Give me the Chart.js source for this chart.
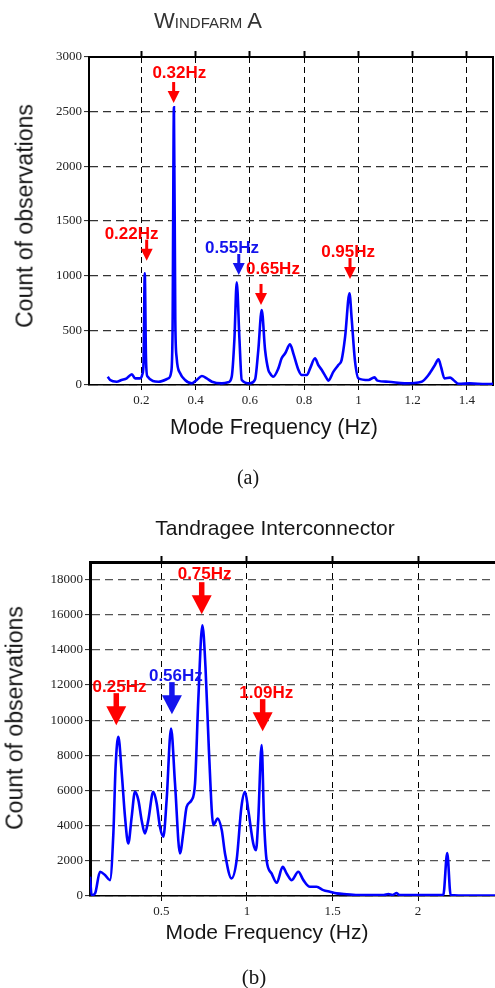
<!DOCTYPE html>
<html><head><meta charset="utf-8">
<script src="https://cdn.jsdelivr.net/npm/chart.js@4.4.1/dist/chart.umd.min.js"></script>
<style>
html,body{margin:0;padding:0;background:#fff;}
body{width:495px;height:988px;overflow:hidden;position:relative;font-family:"Liberation Sans",Arial,sans-serif;}
.box{position:absolute;}
.t{position:absolute;white-space:nowrap;transform:translate(-50%,-50%);color:#151515;line-height:1;}
.rot{transform:translate(-50%,-50%) rotate(-90deg);}
.serif{font-family:"Liberation Serif","Times New Roman",serif;}
</style></head><body>
<div class="box" style="left:0;top:0;width:495px;height:450px"><canvas id="cA"></canvas></div>
<div class="box" style="left:0;top:500px;width:505px;height:440px"><canvas id="cB"></canvas></div>
<div class="t" style="left:208px;top:21px;font-size:22px;font-variant:small-caps;color:#333">Windfarm A</div>
<div class="t rot" style="left:25px;top:216px;font-size:23px">Count of observations</div>
<div class="t" style="left:274px;top:428px;font-size:21.5px">Mode Frequency (Hz)</div>
<div class="t serif" style="left:248px;top:477px;font-size:20px">(a)</div>
<div class="t" style="left:275px;top:527px;font-size:21px">Tandragee Interconnector</div>
<div class="t rot" style="left:15px;top:718px;font-size:23px">Count of observations</div>
<div class="t" style="left:267px;top:931px;font-size:21px">Mode Frequency (Hz)</div>
<div class="t serif" style="left:254px;top:977px;font-size:21px">(b)</div>
<script>
// ---- Windfarm A data ----
const freqA = [0.076,0.085,0.109,0.127,0.146,0.165,0.177,0.196,0.204,0.208,0.2125,0.217,0.222,0.263,0.300,0.310,0.315,0.320,0.325,0.330,0.343,0.361,0.386,0.404,0.423,0.441,0.460,0.497,0.520,0.533,0.543,0.5515,0.5614,0.570,0.600,0.619,0.631,0.6436,0.656,0.668,0.674,0.686,0.705,0.717,0.730,0.748,0.760,0.779,0.791,0.810,0.822,0.840,0.852,0.865,0.883,0.889,0.908,0.926,0.938,0.951,0.967,0.975,0.987,1.000,1.037,1.059,1.070,1.110,1.170,1.233,1.258,1.282,1.295,1.305,1.317,1.338,1.350,1.370,1.410,1.470,1.496];
const countA = [76,46,30,46,61,98,61,61,100,200,1021,250,80,30,61,120,500,2540,600,250,107,46,15,46,82,61,30,15,25,76,423,940,423,46,15,50,320,685,320,137,107,76,152,244,290,372,290,137,91,91,152,244,183,137,61,40,122,183,228,442,838,610,228,61,46,70,40,30,15,30,91,183,235,160,61,67,46,10,15,8,10];
const xTicksA = [0.2,0.4,0.6,0.8,1,1.2,1.4];
const yTicksA = [0,500,1000,1500,2000,2500,3000];
const annLabelA = ['0.32Hz','0.22Hz','0.55Hz','0.65Hz','0.95Hz'];
const annTipFreqA = [0.319,0.2196,0.559,0.641,0.969];
const annTipCountA = [2579,1137,1006,732,969];
const annTextFreqA = [0.340,0.164,0.534,0.685,0.962];
const annTextCountA = [2854,1381,1250,1058,1210];
const annColorA = ['red','red','blue','red','red'];

// ---- Tandragee Interconnector data ----
const freqB = [0.0835,0.093,0.113,0.142,0.171,0.200,0.220,0.233,0.249,0.269,0.288,0.307,0.327,0.346,0.366,0.385,0.404,0.424,0.453,0.473,0.492,0.512,0.531,0.557,0.580,0.609,0.628,0.648,0.677,0.697,0.716,0.740,0.758,0.778,0.804,0.829,0.853,0.872,0.910,0.940,0.968,0.989,1.008,1.037,1.053,1.066,1.086,1.100,1.115,1.144,1.174,1.209,1.232,1.262,1.300,1.330,1.368,1.407,1.446,1.485,1.524,1.583,1.660,1.800,1.826,1.850,1.875,1.890,2.147,2.170,2.190,2.300,2.490];
const countB = [1100,50,150,1377,1190,904,3560,7350,9054,6972,4504,2991,4504,5926,5454,4316,3560,4316,5926,5266,3935,3367,5454,9531,6404,2423,3560,5073,5454,6404,11141,15406,13035,8298,4032,4411,3748,2423,1000,2040,5073,5926,4885,2991,2610,4300,8582,4300,2040,1285,750,1660,1285,904,1377,904,524,524,336,240,150,100,50,50,110,60,170,50,50,2440,50,20,20];
const xTicksB = [0.5,1,1.5,2];
const yTicksB = [0,2000,4000,6000,8000,10000,12000,14000,16000,18000];
const annLabelB = ['0.75Hz','0.25Hz','0.56Hz','1.09Hz'];
const annTipFreqB = [0.736,0.237,0.562,1.092];
const annTipCountB = [16032,9719,10345,9378];
const annTextFreqB = [0.753,0.256,0.585,1.113];
const annTextCountB = [18290,11897,12506,11556];
const annColorB = ['red','red','blue','red'];

const COLORS = {red:'#ff0000', blue:'#1414ee'};
const SERIF = '"Liberation Serif","Times New Roman",serif';

const arrowPlugin = {
  id: 'arrows',
  afterDatasetsDraw(chart, args, o) {
    const {ctx, scales: {x, y}} = chart;
    o.labels.forEach((lab, i) => {
      const px = x.getPixelForValue(o.tipF[i]);
      const py = y.getPixelForValue(o.tipC[i]);
      ctx.save();
      ctx.fillStyle = COLORS[o.colors[i]];
      ctx.font = o.font;
      ctx.textAlign = 'center';
      ctx.textBaseline = 'middle';
      ctx.fillText(lab, x.getPixelForValue(o.textF[i]), y.getPixelForValue(o.textC[i]));
      ctx.fillRect(px - o.shaft / 2, py - o.len, o.shaft, o.len - o.headH + 1);
      ctx.beginPath();
      ctx.moveTo(px - o.headW / 2, py - o.headH);
      ctx.lineTo(px + o.headW / 2, py - o.headH);
      ctx.lineTo(px, py);
      ctx.closePath();
      ctx.fill();
      ctx.restore();
    });
  }
};

const fmt = v => String(v);
function setTicks(list) { return s => { s.ticks = list.map(v => ({value: v})); }; }

function makeChart(id, freq, count, cfg, ann) {
  const pts = freq.map((f, i) => ({x: f, y: count[i]}));
  const scales = {
    x: {
      type: 'linear', position: 'bottom', min: cfg.xmin, max: cfg.xmax,
      afterBuildTicks: setTicks(cfg.xticks),
      ticks: {callback: fmt, font: {family: SERIF, size: 13}, color: '#222', padding: 3, maxRotation: 0, autoSkip: false},
      grid: {color: '#000', lineWidth: 1, tickLength: 5, tickColor: '#000', tickWidth: 1},
      border: {dash: cfg.xdash, color: '#000', width: 1.5},
      afterFit(s) { s.height = cfg.xh; }
    },
    x2: {
      type: 'linear', position: 'top', min: cfg.xmin, max: cfg.xmax,
      afterBuildTicks: setTicks(cfg.xticks),
      ticks: {display: false},
      grid: {drawOnChartArea: false, drawTicks: true, tickLength: 6, tickColor: '#000', tickWidth: 2},
      border: {color: '#000', width: cfg.frame},
      afterFit(s) { s.height = cfg.x2h; }
    },
    y: {
      min: 0, max: cfg.ymax,
      afterBuildTicks: setTicks(cfg.yticks),
      ticks: {callback: fmt, font: {family: SERIF, size: 13}, color: '#222', padding: 2, autoSkip: false},
      grid: {color: cfg.ygrid, lineWidth: 1.2, tickLength: 5, tickColor: '#222', tickWidth: 1},
      border: {dash: [8, 5], color: '#000', width: cfg.frame},
      afterFit(s) { s.width = cfg.yw; }
    }
  };
  if (cfg.rightFrame) {
    scales.y2 = {
      position: 'right', ticks: {display: false},
      grid: {drawOnChartArea: false, drawTicks: false},
      border: {color: '#000', width: cfg.frame},
      afterFit(s) { s.width = 0; }
    };
  }
  return new Chart(document.getElementById(id), {
    type: 'line',
    data: {datasets: [{data: pts, borderColor: '#0000ff', borderWidth: 2.6, pointRadius: 0, cubicInterpolationMode: 'monotone', fill: false}]},
    options: {
      responsive: true, maintainAspectRatio: false, animation: false,
      layout: {padding: cfg.pad},
      plugins: {legend: {display: false}, tooltip: {enabled: false}, arrows: ann},
      scales
    },
    plugins: [arrowPlugin]
  });
}

makeChart('cA', freqA, countA,
  {xmin: 0.007, xmax: 1.496, xticks: xTicksA, yticks: yTicksA, ymax: 3000, xh: 65, x2h: 7, yw: 89, frame: 2, rightFrame: true,
   xdash: [6, 4], ygrid: '#333', pad: {top: 50, left: 0, right: 2, bottom: 0}},
  {labels: annLabelA, tipF: annTipFreqA, tipC: annTipCountA, textF: annTextFreqA, textC: annTextCountA, colors: annColorA,
   font: 'bold 17px "Liberation Sans", Arial, sans-serif', len: 21, shaft: 3, headW: 12, headH: 12});

makeChart('cB', freqB, countB,
  {xmin: 0.0835, xmax: 2.49, xticks: xTicksB, yticks: yTicksB, ymax: 19000, xh: 44, x2h: 6, yw: 90, frame: 3, rightFrame: false,
   xdash: [6, 5], ygrid: '#555', pad: {top: 56, left: 0, right: 3, bottom: 0}},
  {labels: annLabelB, tipF: annTipFreqB, tipC: annTipCountB, textF: annTextFreqB, textC: annTextCountB, colors: annColorB,
   font: 'bold 17px "Liberation Sans", Arial, sans-serif', len: 32, shaft: 5.5, headW: 20, headH: 19});
</script>
</body></html>
